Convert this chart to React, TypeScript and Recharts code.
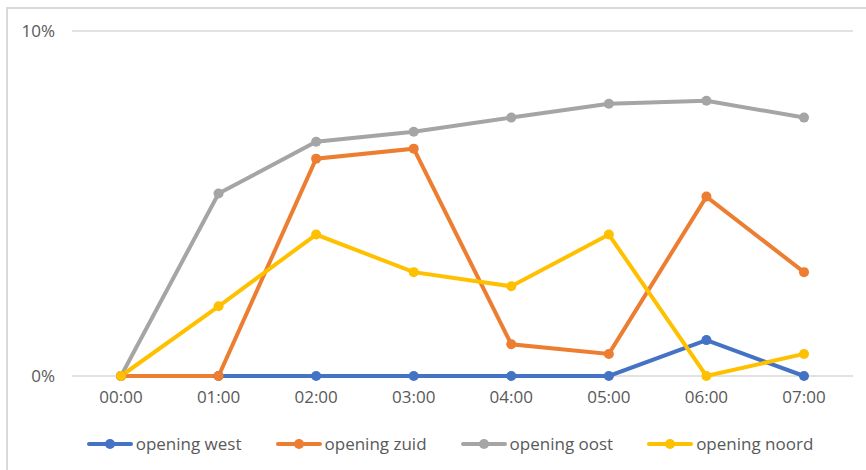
import React from "react";
import { LineChart, Line, XAxis, YAxis, CartesianGrid } from "recharts";

const hours = ["00:00", "01:00", "02:00", "03:00", "04:00", "05:00", "06:00", "07:00"];
const west = [0, 0, 0, 0, 0, 0, 1.04, 0];
const zuid = [0, 0, 6.3, 6.59, 0.92, 0.64, 5.2, 3.01];
const oost = [0, 5.29, 6.79, 7.08, 7.49, 7.89, 7.98, 7.49];
const noord = [0, 2.02, 4.1, 3.01, 2.6, 4.1, 0, 0.64];
const yTicks = [0, 10];

const series = [
  { key: "west", name: "opening west", color: "#4472C4" },
  { key: "zuid", name: "opening zuid", color: "#ED7D31" },
  { key: "oost", name: "opening oost", color: "#A5A5A5" },
  { key: "noord", name: "opening noord", color: "#FFC000" },
];

const data = hours.map((h, i) => ({
  hour: h,
  west: west[i],
  zuid: zuid[i],
  oost: oost[i],
  noord: noord[i],
}));

const FONT = "'Open Sans', 'Noto Sans', sans-serif";

// legend drawn as plain html so it doesn't eat into the plot area
const ChartLegend = () => (
  <div
    style={{
      position: "absolute",
      left: 0,
      top: 432,
      width: 900,
      display: "flex",
      justifyContent: "center",
      gap: 34,
      fontFamily: FONT,
      fontSize: 17,
      color: "#595959",
      lineHeight: "24px",
    }}
  >
    {series.map((s) => (
      <div key={s.key} style={{ display: "flex", alignItems: "center" }}>
        <svg width={46} height={12} style={{ marginRight: 3 }}>
          <line x1={2} y1={6} x2={44} y2={6} stroke={s.color} strokeWidth={4} strokeLinecap="round" />
          <circle cx={23} cy={6} r={5} fill={s.color} />
        </svg>
        <span>{s.name}</span>
      </div>
    ))}
  </div>
);

const App = () => {
  return (
    <div style={{ position: "absolute", left: 0, top: 0, width: 866, height: 470, background: "#fff", overflow: "hidden" }}>
      <div
        style={{
          position: "absolute",
          left: 6,
          top: 7,
          width: 880,
          height: 480,
          borderTop: "2px solid #d9d9d9",
          borderLeft: "2px solid #d9d9d9",
        }}
      />
      <div style={{ position: "absolute", left: 0, top: 0 }}>
        <LineChart width={866} height={470} data={data} margin={{ top: 31, right: 13, bottom: 64, left: 0 }}>
          <CartesianGrid horizontal vertical={false} stroke="#d9d9d9" strokeWidth={1.5} />
          <XAxis
            dataKey="hour"
            height={30}
            padding={{ left: 49, right: 49 }}
            axisLine={false}
            tickLine={false}
            tickSize={0}
            tickMargin={15}
            tick={{ fill: "#595959", fontSize: 17, fontFamily: FONT }}
          />
          <YAxis
            width={72}
            domain={[0, 10]}
            ticks={yTicks}
            tickFormatter={(v) => v + "%"}
            axisLine={false}
            tickLine={false}
            tickSize={0}
            tickMargin={17}
            tick={{ fill: "#595959", fontSize: 17, fontFamily: FONT }}
          />
          {series.map((s) => (
            <Line
              key={s.key}
              type="linear"
              dataKey={s.key}
              name={s.name}
              stroke={s.color}
              strokeWidth={4}
              dot={{ r: 5, fill: s.color, stroke: s.color, strokeWidth: 0 }}
              activeDot={false}
              isAnimationActive={false}
            />
          ))}
        </LineChart>
      </div>
      <ChartLegend />
    </div>
  );
};

export default App;
